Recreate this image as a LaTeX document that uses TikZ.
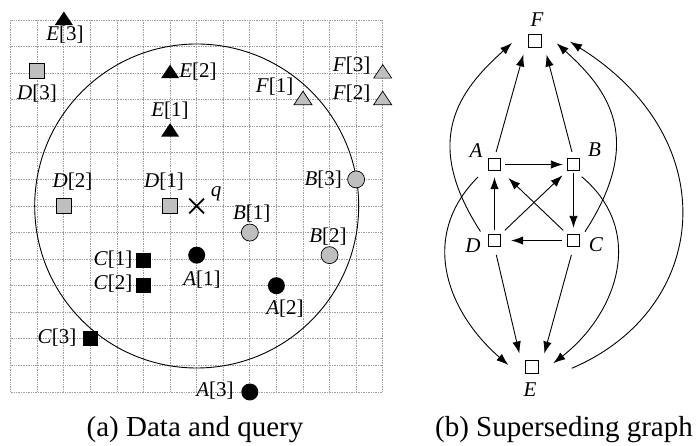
\documentclass[tikz,border=0pt]{standalone}
\usepackage{fontspec}
\setmainfont{Liberation Serif}
\usetikzlibrary{arrows.meta,shapes.misc}
\newcommand{\labfont}{\fontsize{21}{24}\selectfont}
\newcommand{\capfont}{\fontsize{29}{33}\selectfont}
\begin{document}
\begin{tikzpicture}[x=1pt,y=-1pt,
  gridline/.style={draw=black!38, dash pattern=on 1pt off 0.7pt, line width=0.8pt},
  ring/.style={draw=black, line width=0.9pt},
  graycirc/.style={circle, draw=black, fill=black!25, line width=0.7pt, minimum size=17pt, inner sep=0pt},
  blackcirc/.style={circle, fill=black, minimum size=17pt, inner sep=0pt},
  graysq/.style={rectangle, draw=black, fill=black!25, line width=0.7pt, minimum size=15pt, inner sep=0pt},
  blacksq/.style={rectangle, fill=black, minimum size=15pt, inner sep=0pt},
  qmark/.style={cross out, draw=black, line width=1.8pt, minimum size=13pt, inner sep=0pt},
  tri/.pic={\path[pic actions] (-9pt,-5pt) -- (9pt,-5pt) -- (0pt,8.5pt) -- cycle;},
  blacktri/.style={fill=black},
  graytri/.style={draw=black, fill=black!25, line width=0.7pt},
  lab/.style={font=\labfont, inner sep=0pt},
  glab/.style={font=\labfont, inner sep=0pt},
  capt/.style={font=\capfont, inner sep=0pt, anchor=base},
  gnode/.style={rectangle, draw=black, fill=white, line width=0.9pt, minimum size=12.5pt, inner sep=0pt},
  arr/.style={-{Latex[length=12pt,width=8.5pt]}, line width=0.9pt}
]
\useasboundingbox (0,0) rectangle (696,445);

% ---------------- (a) data and query ----------------
\begin{scope}[shift={(10.7pt,-20pt)}, x=26.57pt, y=-26.57pt]
  \foreach \i in {0,...,14} {
    \draw[gridline] (\i,0) -- (\i,14);
    \draw[gridline] (0,\i) -- (14,\i);
  }
  \node[qmark] (q) at (7,7) {};
  \draw[ring] (q.center) circle[radius=162pt];

  \coordinate (e3) at (2,0);
  \coordinate (e2) at (6,2);
  \coordinate (e1) at (6,4.2);
  \coordinate (f1) at (11,3);
  \coordinate (f3) at (14,2);
  \coordinate (f2) at (14,3);
  \pic[blacktri] at (e3) {tri};
  \pic[blacktri] at (e2) {tri};
  \pic[blacktri] at (e1) {tri};
  \pic[graytri] at (f1) {tri};
  \pic[graytri] at (f3) {tri};
  \pic[graytri] at (f2) {tri};

  \node[graysq] (d3) at (1,1.9) {};
  \node[graysq] (d2) at (2,7) {};
  \node[graysq] (d1) at (6,7) {};
  \node[graycirc] (b3) at (13,6) {};
  \node[graycirc] (b1) at (9,8) {};
  \node[graycirc] (b2) at (12,8.85) {};
  \node[blacksq] (c1) at (5,9.05) {};
  \node[blacksq] (c2) at (5,10) {};
  \node[blacksq] (c3) at (3,12) {};
  \node[blackcirc] (a1) at (7,8.85) {};
  \node[blackcirc] (a2) at (10,10) {};
  \node[blackcirc] (a3) at (9,14) {};
\end{scope}

\node[lab] (lE3) at (65,35) {\textit{E}[3]};
\node[lab] (lD3) at (37,94) {\textit{D}[3]};
\node[lab] (lE2) at (198,72) {\textit{E}[2]};
\node[lab] (lE1) at (170,111) {\textit{E}[1]};
\node[lab] (lF1) at (274.7,87) {\textit{F}[1]};
\node[lab] (lF3) at (351.7,66) {\textit{F}[3]};
\node[lab] (lF2) at (351.7,94) {\textit{F}[2]};
\node[lab] (lB3) at (323.3,180) {\textit{B}[3]};
\node[lab] (lD2) at (72.5,182) {\textit{D}[2]};
\node[lab] (lD1) at (164,182) {\textit{D}[1]};
\node[lab] (lq) at (216,194) {\textit{q}};
\node[lab] (lB1) at (251.7,214) {\textit{B}[1]};
\node[lab] (lB2) at (328,237) {\textit{B}[2]};
\node[lab] (lC1) at (113,260) {\textit{C}[1]};
\node[lab] (lC2) at (113,284) {\textit{C}[2]};
\node[lab] (lA1) at (202,280) {\textit{A}[1]};
\node[lab] (lA2) at (285,309) {\textit{A}[2]};
\node[lab] (lC3) at (57,338) {\textit{C}[3]};
\node[lab] (lA3) at (215,391) {\textit{A}[3]};

\node[capt] (capa) at (195,436.3) {(a) Data and query};

% ---------------- (b) superseding graph ----------------
\node[gnode] (F) at (535,41) {};
\node[gnode] (A) at (494.5,164.5) {};
\node[gnode] (B) at (573.5,164.5) {};
\node[gnode] (D) at (494.5,240.5) {};
\node[gnode] (C) at (573.5,240.5) {};
\node[gnode] (E) at (531.7,367) {};

\node[glab] (lF) at (537,20) {\textit{F}};
\node[glab] (lA) at (476,151) {\textit{A}};
\node[glab] (lB) at (594.5,150) {\textit{B}};
\node[glab] (lD) at (473,246) {\textit{D}};
\node[glab] (lC) at (596,245) {\textit{C}};
\node[glab] (lE) at (530,390) {\textit{E}};

\draw[arr, shorten <=6pt, shorten >=7pt] (A.north) -- ([xshift=-3pt]F.south west);
\draw[arr, shorten <=6pt, shorten >=7pt] (B.north) -- ([xshift=3pt]F.south east);
\draw[arr, shorten <=4pt, shorten >=4pt] (A.east) -- (B.west);
\draw[arr, shorten <=2pt, shorten >=6pt] (B.south) -- (C.north);
\draw[arr, shorten <=5pt, shorten >=10pt] (C.west) -- (D.east);
\draw[arr, shorten <=4pt, shorten >=6pt] (D.north) -- (A.south);
\draw[arr, shorten <=5pt, shorten >=10pt] (C.north west) -- (A.south east);
\draw[arr, shorten <=5pt, shorten >=6pt] (D.north east) -- (B.south west);
\draw[arr, shorten <=8pt, shorten >=7pt] (D.south) -- ([xshift=-4pt]E.north west);
\draw[arr, shorten <=8pt, shorten >=7pt] (C.south) -- ([xshift=4pt]E.north east);

\draw[arr] ([shift={(-14pt,9pt)}]D.center) to[out=123, in=222, out distance=110pt, in distance=70pt] ([shift={(-23pt,-2pt)}]F.center);
\draw[arr] ([shift={(-16.5pt,-12.5pt)}]A.center) to[out=225, in=139, out distance=85pt, in distance=80pt] ([shift={(-23.4pt,2pt)}]E.center);
\draw[arr] ([shift={(8.2pt,-12.2pt)}]B.center) to[out=-40, in=38, out distance=85pt, in distance=80pt] ([shift={(21.6pt,3.7pt)}]E.center);
\draw[arr] ([shift={(11.5pt,8.8pt)}]C.center) to[out=57, in=318, out distance=110pt, in distance=70pt] ([shift={(21.7pt,-2.3pt)}]F.center);
\draw[arr] ([shift={(40pt,-1.3pt)}]E.center) to[out=23, in=328, out distance=150pt, in distance=185pt] ([shift={(35pt,-0.7pt)}]F.center);

\node[capt] (capb) at (564,436.3) {(b) Superseding graph};
\end{tikzpicture}
\end{document}
